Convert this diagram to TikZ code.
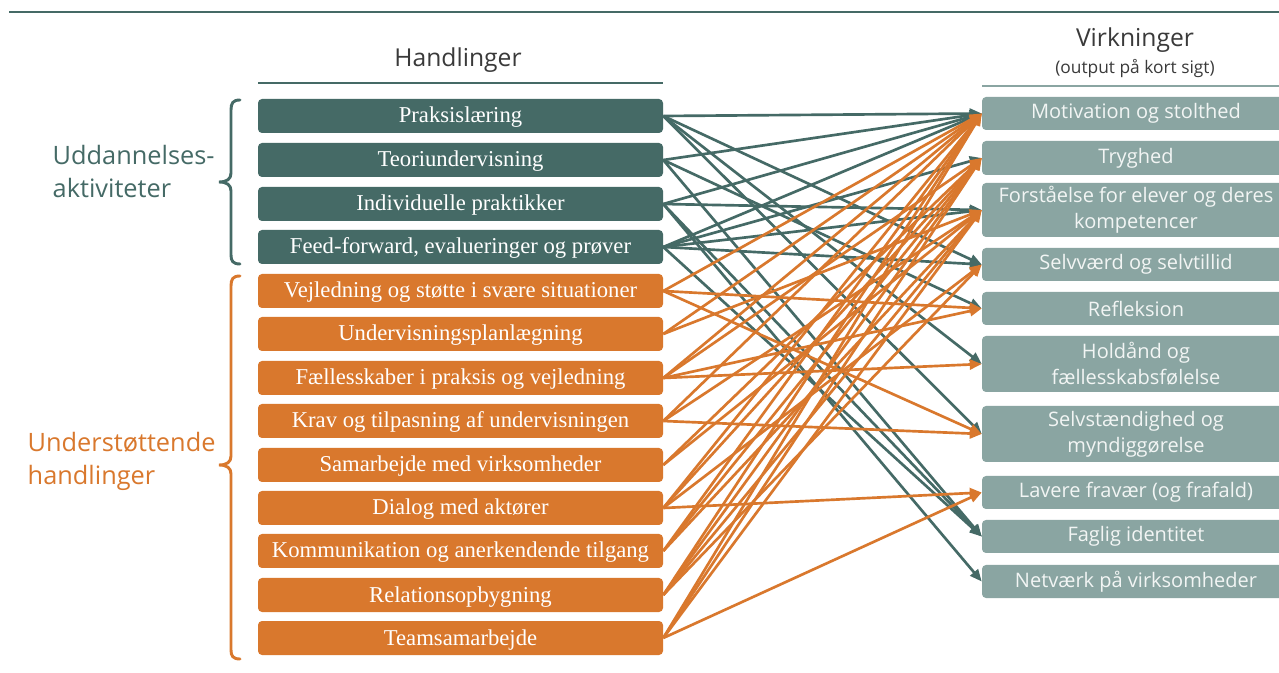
\documentclass[tikz,border=0pt]{standalone}
\usepackage{fontspec}
\setmainfont{Liberation Serif}
\newfontfamily\osans{Open Sans}
\usetikzlibrary{arrows.meta}
\definecolor{tealA}{HTML}{456A66}
\definecolor{orngA}{HTML}{D9782D}
\definecolor{greyA}{HTML}{8AA5A2}
\definecolor{txtA}{HTML}{3A3A3A}
\definecolor{wtxt}{HTML}{F2F5F4}
\tikzset{
  lbox/.style={rounded corners=3pt, minimum width=303.75pt, minimum height=25.5pt, inner sep=0pt, text height=13pt, text depth=2.5pt, text=white, font=\fontsize{17}{20}\selectfont},
  rbox/.style={rounded corners=3pt, fill=greyA, minimum width=231pt, inner sep=0pt, text=wtxt, align=center, font=\osans\fontsize{15}{19.5}\selectfont},
  tarr/.style={draw=tealA, line width=2pt, -{Triangle[length=9pt,width=7.5pt]}},
  oarr/.style={draw=orngA, line width=2pt, -{Triangle[length=9pt,width=7.5pt]}},
  brc/.style={line width=2.2pt, line cap=round},
}
\begin{document}
\begin{tikzpicture}[x=0.75pt,y=-0.75pt]
\clip (0,0) rectangle (1279,673);
\fill[white] (0,0) rectangle (1279,673);
% top rule
\draw[tealA, line width=1.6pt] (9,12) -- (1279,12);
% headings
\node[text=txtA, font=\osans\fontsize{18.5}{22}\selectfont] (hA) at (458,60) {Handlinger};
\draw[tealA, line width=1.6pt] (258,83) -- (663,83);
\node[text=txtA, font=\osans\fontsize{18.5}{22}\selectfont] (hB) at (1135,40) {Virkninger};
\node[text=txtA, font=\osans\fontsize{13}{16}\selectfont] (hC) at (1135,69) {(output på kort sigt)};
\draw[greyA, line width=2.2pt] (982,86) -- (1279,86);
% group labels
\node[anchor=west, align=left, text=tealA, font=\osans\fontsize{19}{24.75}\selectfont] (gA) at (48,172) {Uddannelses-\\aktiviteter};
\node[anchor=west, align=left, text=orngA, font=\osans\fontsize{19}{24.75}\selectfont] (gB) at (23,461) {Understøttende\\handlinger};
% braces
\draw[tealA, brc] (240,100) .. controls (233,100) and (231,103) .. (231,110) -- (231,173) .. controls (231,179) and (227,182) .. (219,182) .. controls (227,182) and (231,185) .. (231,191) -- (231,255) .. controls (231,261) and (233,264) .. (240,264);
\draw[orngA, brc] (240,276) .. controls (233,276) and (231,279) .. (231,286) -- (231,456) .. controls (231,462) and (227,465) .. (219,465) .. controls (227,465) and (231,468) .. (231,474) -- (231,650) .. controls (231,656) and (233,659) .. (240,659);
% left boxes
\node[lbox, fill=tealA] (L1) at (460.5,116) {Praksislæring};
\node[lbox, fill=tealA] (L2) at (460.5,160) {Teoriundervisning};
\node[lbox, fill=tealA] (L3) at (460.5,204) {Individuelle praktikker};
\node[lbox, fill=tealA] (L4) at (460.5,247) {Feed-forward, evalueringer og prøver};
\node[lbox, fill=orngA] (L5) at (460.5,291) {Vejledning og støtte i svære situationer};
\node[lbox, fill=orngA] (L6) at (460.5,334) {Undervisningsplanlægning};
\node[lbox, fill=orngA] (L7) at (460.5,378) {Fællesskaber i praksis og vejledning};
\node[lbox, fill=orngA] (L8) at (460.5,421) {Krav og tilpasning af undervisningen};
\node[lbox, fill=orngA] (L9) at (460.5,465) {Samarbejde med virksomheder};
\node[lbox, fill=orngA] (L10) at (460.5,508) {Dialog med aktører};
\node[lbox, fill=orngA] (L11) at (460.5,551) {Kommunikation og anerkendende tilgang};
\node[lbox, fill=orngA] (L12) at (460.5,595) {Relationsopbygning};
\node[lbox, fill=orngA] (L13) at (460.5,638) {Teamsamarbejde};
% right boxes
\node[rbox, minimum height=24.75pt] (R1) at (1136,113.5) {Motivation og stolthed};
\node[rbox, minimum height=25.5pt] (R2) at (1136,158) {Tryghed};
\node[rbox, minimum height=40.5pt] (R3) at (1136,210) {Forståelse for elever og deres\\kompetencer};
\node[rbox, minimum height=24.75pt] (R4) at (1136,264.5) {Selvværd og selvtillid};
\node[rbox, minimum height=24.75pt] (R5) at (1136,308.5) {Refleksion};
\node[rbox, minimum height=42pt] (R6) at (1136,364) {Holdånd og\\fællesskabsfølelse};
\node[rbox, minimum height=42pt] (R7) at (1136,434) {Selvstændighed og\\myndiggørelse};
\node[rbox, minimum height=24.75pt] (R8) at (1136,492.5) {Lavere fravær (og frafald)};
\node[rbox, minimum height=24.75pt] (R9) at (1136,536.5) {Faglig identitet};
\node[rbox, minimum height=24.75pt] (R10) at (1136,581.5) {Netværk på virksomheder};
% teal connectors
\foreach \s/\t in {L1/R1,L1/R4,L1/R6,L1/R7,L2/R1,L2/R5,L2/R9,L3/R1,L3/R3,L3/R9,L3/R10,L4/R1,L4/R2,L4/R3,L4/R4,L4/R9}
  \draw[tarr] (\s.east) -- (\t.west);
% orange connectors
\foreach \s/\t in {L5/R1,L5/R5,L5/R7,L6/R1,L6/R3,L7/R1,L7/R2,L7/R5,L7/R6,L8/R1,L8/R3,L8/R7,L9/R2,L9/R3,L10/R1,L10/R2,L10/R4,L10/R8,L11/R1,L11/R2,L11/R3,L12/R1,L12/R2,L12/R3,L12/R4,L13/R1,L13/R2,L13/R3,L13/R8}
  \draw[oarr] (\s.east) -- (\t.west);
\end{tikzpicture}
\end{document}
